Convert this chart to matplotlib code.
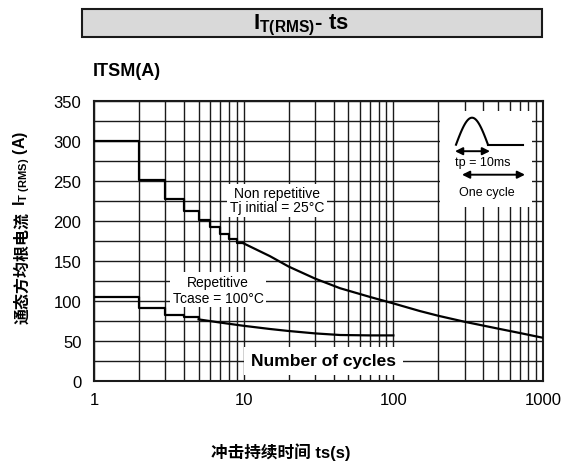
# -*- coding: utf-8 -*-
'''
    Surge current vs. duration chart (IT(RMS) - ts)
'''
import numpy as np
import matplotlib.pyplot as plt
from matplotlib.patches import Rectangle

plt.rcParams['font.family'] = ['Liberation Sans', 'Noto Sans CJK SC', 'DejaVu Sans']
plt.rcParams['mathtext.fontset'] = 'custom'
plt.rcParams['mathtext.rm'] = 'Liberation Sans'
plt.rcParams['mathtext.bf'] = 'Liberation Sans:bold'
plt.rcParams['mathtext.it'] = 'Liberation Sans:italic'

# Non repetitive, Tj initial = 25 C (step per cycle, then continuous)
nr_step_x = [1, 2, 3, 4, 5, 6, 7, 8, 9, 10]
nr_step_y = [300, 251, 227, 212, 201, 192, 184, 177, 172, 172]
nr_curve_x = [10, 15, 20, 30, 44, 70, 100, 150, 200, 300, 500, 700, 1000]
nr_curve_y = [172, 156, 143, 128, 116, 105, 97, 87.5, 81.5, 74, 65.5, 60, 54]

# Repetitive, Tcase = 100 C
rep_step_x = [1, 2, 3, 4, 5]
rep_step_y = [105, 91, 83, 80, 77]
rep_curve_x = [5, 7, 10, 15, 20, 30, 44, 70, 100]
rep_curve_y = [77, 73, 69, 65, 62.5, 59.5, 57.5, 57, 57]

x_major = [1, 10, 100, 1000]
x_minor = [m * d for d in [1, 10, 100] for m in range(2, 10)]
y_major = [0, 50, 100, 150, 200, 250, 300, 350]
y_minor = [25, 75, 125, 175, 225, 275, 325]

W, H = 566, 464
fig = plt.figure(figsize=(W / 100, H / 100), dpi=100)
ax = fig.add_axes([94 / W, 1 - 382 / H, 449 / W, 280 / H])

ax.set_xscale('log')
ax.set_xlim(1, 1000)
ax.set_ylim(0, 350)
ax.set_xticks(x_major)
ax.set_xticklabels([str(v) for v in x_major])
ax.set_xticks(x_minor, minor=True)
ax.set_xticklabels([], minor=True)
ax.set_yticks(y_major)
ax.set_yticks(y_minor, minor=True)
ax.tick_params(which='both', length=0, labelsize=12)
ax.tick_params(axis='x', pad=8)
ax.tick_params(axis='y', pad=9)
ax.grid(which='both', color='#1a1a1a', lw=1.0)
for s in ax.spines.values():
    s.set_linewidth(1.5)
    s.set_color('#1a1a1a')

# curves
ax.step(nr_step_x, nr_step_y, where='post', color='black', lw=1.6, zorder=3)
ax.plot(nr_curve_x, nr_curve_y, color='black', lw=1.6, zorder=3)
ax.step(rep_step_x, rep_step_y, where='post', color='black', lw=1.6, zorder=3)
ax.plot(rep_curve_x, rep_curve_y, color='black', lw=1.6, zorder=3)

# curve labels
ax.text(16.7, 226, 'Non repetitive\nTj initial = 25°C', ha='center', va='center',
        fontsize=10, linespacing=0.95, zorder=4,
        bbox=dict(facecolor='white', edgecolor='none', pad=2))
ax.text(6.74, 114, 'Repetitive\nTcase = 100°C', ha='center', va='center',
        fontsize=10, linespacing=1.15, zorder=4,
        bbox=dict(facecolor='white', edgecolor='none', pad=2))
ax.text(34, 25, 'Number of cycles', ha='center', va='center',
        fontsize=12.5, fontweight='bold', zorder=4,
        bbox=dict(facecolor='white', edgecolor='none', pad=5))

# one-cycle pulse sketch
axi = fig.add_axes([440 / W, 1 - 208 / H, 92 / W, 96.3 / H])
axi.set_xlim(0, 92)
axi.set_ylim(96.3, 0)
axi.set_xticks([])
axi.set_yticks([])
for s in axi.spines.values():
    s.set_visible(False)
t = np.linspace(0, 1, 50)
axi.plot(16 + 32 * t, 34 - 27 * np.sin(np.pi * t), color='black', lw=1.5)
axi.plot([48, 83], [34, 34], color='black', lw=1.5)
axi.annotate('', xy=(50, 40.5), xytext=(15, 40.5),
             arrowprops=dict(arrowstyle='<|-|>', color='black', lw=1.4,
                             mutation_scale=11, shrinkA=0, shrinkB=0))
axi.annotate('', xy=(85, 64), xytext=(22, 64),
             arrowprops=dict(arrowstyle='<|-|>', color='black', lw=1.4,
                             mutation_scale=11, shrinkA=0, shrinkB=0))
axi.text(15, 51.5, 'tp = 10ms', ha='left', va='center', fontsize=9)
axi.text(47, 81.5, 'One cycle', ha='center', va='center', fontsize=9)

# title bar
fig.patches.append(Rectangle((82 / W, 1 - 38 / H), 460 / W, 28 / H,
                             transform=fig.transFigure, facecolor='#d9d9d9',
                             edgecolor='#1a1a1a', lw=1.5))
fig.text(301 / W, 1 - 25 / H, r'$\mathbf{I_{T(RMS)}}$- ts', ha='center', va='center',
         fontsize=16, fontweight='bold')

# axis titles
fig.text(93 / W, 1 - 72 / H, 'ITSM(A)', ha='left', va='center',
         fontsize=13, fontweight='bold')
# y title: CJK part and symbol part kept as separate texts
fig.text(22 / W, 1 - 324 / H, '通态方均根电流', ha='center', va='bottom',
         rotation=90, fontsize=11.5, fontweight='bold')
fig.text(22 / W, 1 - 206 / H, r'$\mathbf{I}_{\mathbf{T\ (RMS)}}$ (A)', ha='center',
         va='bottom', rotation=90, fontsize=11.5, fontweight='bold')
fig.text(281 / W, 1 - 452 / H, '冲击持续时间 ts(s)', ha='center', va='center',
         fontsize=12, fontweight='bold')

plt.savefig('out.png', dpi=100)
plt.close()
